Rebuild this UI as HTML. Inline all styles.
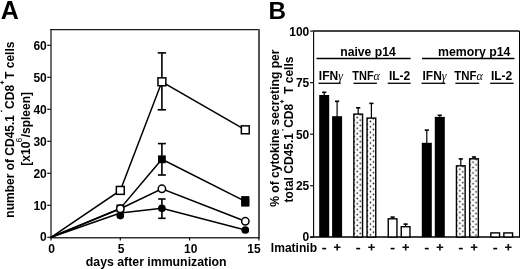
<!DOCTYPE html>
<html><head><meta charset="utf-8"><style>
html,body{margin:0;padding:0;background:#fff;width:520px;height:269px;overflow:hidden}
svg{display:block;will-change:transform}
</style></head><body>
<svg width="520" height="269" viewBox="0 0 520 269">
<defs><pattern id="dots358" patternUnits="userSpaceOnUse" x="352.75" y="113.40" width="6" height="5.4"><rect width="6" height="5.4" fill="#fff"/><circle cx="1.5" cy="1.35" r="0.85" fill="#111"/><circle cx="4.5" cy="4.05" r="0.85" fill="#111"/></pattern><pattern id="dots371" patternUnits="userSpaceOnUse" x="365.95" y="117.40" width="6" height="5.4"><rect width="6" height="5.4" fill="#fff"/><circle cx="1.5" cy="1.35" r="0.85" fill="#111"/><circle cx="4.5" cy="4.05" r="0.85" fill="#111"/></pattern><pattern id="dots460" patternUnits="userSpaceOnUse" x="455.35" y="165.10" width="6" height="5.4"><rect width="6" height="5.4" fill="#fff"/><circle cx="1.5" cy="1.35" r="0.85" fill="#111"/><circle cx="4.5" cy="4.05" r="0.85" fill="#111"/></pattern><pattern id="dots474" patternUnits="userSpaceOnUse" x="468.55" y="158.10" width="6" height="5.4"><rect width="6" height="5.4" fill="#fff"/><circle cx="1.5" cy="1.35" r="0.85" fill="#111"/><circle cx="4.5" cy="4.05" r="0.85" fill="#111"/></pattern></defs>
<rect width="520" height="269" fill="#fff"/>
<text x="0.8" y="19" font-family="Liberation Sans" font-weight="bold" font-size="25">A</text>
<line x1="51" y1="29.6" x2="51" y2="237.3" stroke="#666" stroke-width="1.9"/>
<line x1="50.2" y1="29.6" x2="259.6" y2="29.6" stroke="#1a1a1a" stroke-width="1.3"/>
<line x1="259" y1="29.6" x2="259" y2="237.3" stroke="#555" stroke-width="2"/>
<line x1="50.2" y1="237.7" x2="259.9" y2="237.7" stroke="#333" stroke-width="1.6"/>
<line x1="47.3" y1="237.30" x2="51" y2="237.30" stroke="#111" stroke-width="1.2"/>
<text x="46.8" y="240.80" font-family="Liberation Sans" font-weight="bold" font-size="12" text-anchor="end">0</text>
<line x1="47.3" y1="205.30" x2="51" y2="205.30" stroke="#111" stroke-width="1.2"/>
<text x="46.8" y="209.50" font-family="Liberation Sans" font-weight="bold" font-size="12" text-anchor="end">10</text>
<line x1="47.3" y1="173.30" x2="51" y2="173.30" stroke="#111" stroke-width="1.2"/>
<text x="46.8" y="177.50" font-family="Liberation Sans" font-weight="bold" font-size="12" text-anchor="end">20</text>
<line x1="47.3" y1="141.30" x2="51" y2="141.30" stroke="#111" stroke-width="1.2"/>
<text x="46.8" y="145.50" font-family="Liberation Sans" font-weight="bold" font-size="12" text-anchor="end">30</text>
<line x1="47.3" y1="109.30" x2="51" y2="109.30" stroke="#111" stroke-width="1.2"/>
<text x="46.8" y="113.50" font-family="Liberation Sans" font-weight="bold" font-size="12" text-anchor="end">40</text>
<line x1="47.3" y1="77.30" x2="51" y2="77.30" stroke="#111" stroke-width="1.2"/>
<text x="46.8" y="81.50" font-family="Liberation Sans" font-weight="bold" font-size="12" text-anchor="end">50</text>
<line x1="47.3" y1="45.30" x2="51" y2="45.30" stroke="#111" stroke-width="1.2"/>
<text x="46.8" y="49.50" font-family="Liberation Sans" font-weight="bold" font-size="12" text-anchor="end">60</text>
<line x1="51.00" y1="237.3" x2="51.00" y2="240.6" stroke="#111" stroke-width="1.2"/>
<text x="51.6" y="253.4" font-family="Liberation Sans" font-weight="bold" font-size="12" text-anchor="middle">0</text>
<line x1="120.30" y1="237.3" x2="120.30" y2="240.6" stroke="#111" stroke-width="1.2"/>
<text x="121" y="253.4" font-family="Liberation Sans" font-weight="bold" font-size="12" text-anchor="middle">5</text>
<line x1="189.60" y1="237.3" x2="189.60" y2="240.6" stroke="#111" stroke-width="1.2"/>
<text x="190.7" y="253.4" font-family="Liberation Sans" font-weight="bold" font-size="12" text-anchor="middle">10</text>
<line x1="258.90" y1="237.3" x2="258.90" y2="240.6" stroke="#111" stroke-width="1.2"/>
<text x="254" y="253.4" font-family="Liberation Sans" font-weight="bold" font-size="12" text-anchor="middle">15</text>
<text x="156.2" y="266.2" font-family="Liberation Sans" font-weight="bold" font-size="12.3" text-anchor="middle">days after immunization</text>
<text transform="translate(14.3,217.7) rotate(-90)" font-family="Liberation Sans" font-weight="bold" font-size="12">number of CD45.1</text>
<text transform="translate(14.3,108.9) rotate(-90)" font-family="Liberation Sans" font-weight="bold" font-size="12">CD8</text>
<text transform="translate(14.3,78.9) rotate(-90)" font-family="Liberation Sans" font-weight="bold" font-size="12">T cells</text>
<path d="M1.55 80.70h1.1v3.6h-1.1zM0.30 81.95h3.6v1.1h-3.6z" fill="#111"/>
<circle cx="1.5" cy="111.1" r="0.85" fill="#222"/>
<text transform="translate(30.2,165.7) rotate(-90)" font-family="Liberation Sans" font-weight="bold" font-size="12">[x10</text>
<text transform="translate(30.2,137.3) rotate(-90)" font-family="Liberation Sans" font-weight="bold" font-size="12">/spleen]</text>
<text transform="translate(22.4,142.6) rotate(-90)" font-family="Liberation Sans" font-weight="normal" font-size="8.5">6</text>
<polyline points="51.00,237.30 120.30,190.40 161.90,81.80 245.30,129.80" fill="none" stroke="#000" stroke-width="1.5"/>
<line x1="161.90" y1="52.9" x2="161.90" y2="109.8" stroke="#000" stroke-width="1.6"/>
<line x1="157.70" y1="52.9" x2="166.10" y2="52.9" stroke="#000" stroke-width="1.6"/>
<line x1="157.70" y1="109.8" x2="166.10" y2="109.8" stroke="#000" stroke-width="1.6"/>
<polyline points="51.00,237.30 120.30,208.40 161.90,159.30 245.30,201.40" fill="none" stroke="#000" stroke-width="1.5"/>
<line x1="161.90" y1="143.6" x2="161.90" y2="175.0" stroke="#000" stroke-width="1.6"/>
<line x1="157.90" y1="143.6" x2="165.90" y2="143.6" stroke="#000" stroke-width="1.6"/>
<line x1="157.90" y1="175.0" x2="165.90" y2="175.0" stroke="#000" stroke-width="1.6"/>
<polyline points="51.00,237.30 120.30,208.80 161.90,188.80 245.30,221.30" fill="none" stroke="#000" stroke-width="1.5"/>
<polyline points="51.00,237.30 120.30,213.00 161.90,208.30 245.30,230.00" fill="none" stroke="#000" stroke-width="1.5"/>
<line x1="161.90" y1="199.0" x2="161.90" y2="218.3" stroke="#000" stroke-width="1.6"/>
<line x1="158.20" y1="199.0" x2="165.60" y2="199.0" stroke="#000" stroke-width="1.6"/>
<line x1="158.20" y1="218.3" x2="165.60" y2="218.3" stroke="#000" stroke-width="1.6"/>
<rect x="241.20" y="196.1" width="8.2" height="10.5" fill="#000"/>
<rect x="116.40" y="204.50" width="7.8" height="7.8" fill="#000"/>
<rect x="158.00" y="155.40" width="7.8" height="7.8" fill="#000"/>
<rect x="241.40" y="197.50" width="7.8" height="7.8" fill="#000"/>
<rect x="116.35" y="186.45" width="7.9" height="7.9" fill="#fff" stroke="#000" stroke-width="1.5"/>
<rect x="157.95" y="77.85" width="7.9" height="7.9" fill="#fff" stroke="#000" stroke-width="1.5"/>
<rect x="241.35" y="125.85" width="7.9" height="7.9" fill="#fff" stroke="#000" stroke-width="1.5"/>
<circle cx="120.30" cy="215.60" r="3.85" fill="#000"/>
<circle cx="161.90" cy="208.30" r="3.85" fill="#000"/>
<circle cx="245.30" cy="230.00" r="3.85" fill="#000"/>
<circle cx="120.30" cy="208.80" r="3.7" fill="#fff" stroke="#000" stroke-width="1.5"/>
<circle cx="161.90" cy="188.80" r="3.7" fill="#fff" stroke="#000" stroke-width="1.5"/>
<circle cx="245.30" cy="221.30" r="3.7" fill="#fff" stroke="#000" stroke-width="1.5"/>
<text x="268.6" y="18.7" font-family="Liberation Sans" font-weight="bold" font-size="24.3">B</text>
<line x1="313.6" y1="31" x2="313.6" y2="237.1" stroke="#000" stroke-width="1.1"/>
<line x1="313.2" y1="31" x2="519.5" y2="31" stroke="#444" stroke-width="1.8"/>
<line x1="519.5" y1="31" x2="519.5" y2="237.1" stroke="#000" stroke-width="1"/>
<line x1="310.1" y1="237.0" x2="520" y2="237.0" stroke="#000" stroke-width="1.4"/>
<line x1="310.1" y1="237.30" x2="313.8" y2="237.30" stroke="#111" stroke-width="1.2"/>
<text x="309.3" y="240.70" font-family="Liberation Sans" font-weight="bold" font-size="12" text-anchor="end">0</text>
<line x1="310.1" y1="185.75" x2="313.8" y2="185.75" stroke="#111" stroke-width="1.2"/>
<text x="309.3" y="190.45" font-family="Liberation Sans" font-weight="bold" font-size="12" text-anchor="end">25</text>
<line x1="310.1" y1="134.20" x2="313.8" y2="134.20" stroke="#111" stroke-width="1.2"/>
<text x="309.3" y="138.90" font-family="Liberation Sans" font-weight="bold" font-size="12" text-anchor="end">50</text>
<line x1="310.1" y1="82.65" x2="313.8" y2="82.65" stroke="#111" stroke-width="1.2"/>
<text x="309.3" y="87.35" font-family="Liberation Sans" font-weight="bold" font-size="12" text-anchor="end">75</text>
<line x1="310.1" y1="31.10" x2="313.8" y2="31.10" stroke="#111" stroke-width="1.2"/>
<text x="309.3" y="36.20" font-family="Liberation Sans" font-weight="bold" font-size="12" text-anchor="end">100</text>
<text transform="translate(279.2,206.8) rotate(-90)" font-family="Liberation Sans" font-weight="bold" font-size="12.1">% of cytokine secreting per</text>
<text transform="translate(293,202.4) rotate(-90)" font-family="Liberation Sans" font-weight="bold" font-size="12">total CD45.1</text>
<text transform="translate(293,127.8) rotate(-90)" font-family="Liberation Sans" font-weight="bold" font-size="12">CD8</text>
<text transform="translate(293,93.95) rotate(-90)" font-family="Liberation Sans" font-weight="bold" font-size="12">T cells</text>
<path d="M281.40 99.70h1.1v3.6h-1.1zM280.15 100.95h3.6v1.1h-3.6z" fill="#111"/>
<circle cx="282.8" cy="129.8" r="0.85" fill="#222"/>
<text x="340.2" y="55.6" font-family="Liberation Sans" font-weight="bold" font-size="12.2">naive p14</text>
<line x1="316.5" y1="58.5" x2="410.6" y2="58.5" stroke="#000" stroke-width="1.5"/>
<text x="438" y="55.6" font-family="Liberation Sans" font-weight="bold" font-size="12.3">memory p14</text>
<line x1="422" y1="58.6" x2="514.4" y2="58.6" stroke="#000" stroke-width="1.5"/>
<text x="318.8" y="80" font-family="Liberation Sans" font-weight="bold" font-size="12">IFN<tspan font-family="Liberation Serif" font-weight="normal" font-style="italic">γ</tspan></text>
<line x1="318.5" y1="83.3" x2="340.6" y2="83.3" stroke="#000" stroke-width="1.3"/>
<text x="352.3" y="80" font-family="Liberation Sans" font-weight="bold" font-size="12"><tspan textLength="21.3" lengthAdjust="spacingAndGlyphs">TNF</tspan><tspan font-family="Liberation Serif" font-weight="normal" font-style="italic">α</tspan></text>
<line x1="353.5" y1="83.3" x2="376.9" y2="83.3" stroke="#000" stroke-width="1.3"/>
<text x="388.9" y="80" font-family="Liberation Sans" font-weight="bold" font-size="12">IL-2</text>
<line x1="387.7" y1="83.3" x2="410.6" y2="83.3" stroke="#000" stroke-width="1.3"/>
<text x="422.5" y="80" font-family="Liberation Sans" font-weight="bold" font-size="12">IFN<tspan font-family="Liberation Serif" font-weight="normal" font-style="italic">γ</tspan></text>
<line x1="421.5" y1="83.3" x2="445.3" y2="83.3" stroke="#000" stroke-width="1.3"/>
<text x="454.3" y="80" font-family="Liberation Sans" font-weight="bold" font-size="12"><tspan textLength="22.2" lengthAdjust="spacingAndGlyphs">TNF</tspan><tspan font-family="Liberation Serif" font-weight="normal" font-style="italic">α</tspan></text>
<line x1="455.4" y1="83.3" x2="479.2" y2="83.3" stroke="#000" stroke-width="1.3"/>
<text x="490.9" y="80" font-family="Liberation Sans" font-weight="bold" font-size="12">IL-2</text>
<line x1="490.2" y1="83.3" x2="513.6" y2="83.3" stroke="#000" stroke-width="1.3"/>
<line x1="324.2" y1="92.3" x2="324.2" y2="96" stroke="#000" stroke-width="1.2"/>
<line x1="322.10" y1="92.3" x2="326.30" y2="92.3" stroke="#000" stroke-width="1.6"/>
<rect x="319.20" y="95" width="10" height="142.00" fill="#000"/>
<line x1="337.1" y1="101.3" x2="337.1" y2="117.2" stroke="#000" stroke-width="1.2"/>
<line x1="335.00" y1="101.3" x2="339.20" y2="101.3" stroke="#000" stroke-width="1.6"/>
<rect x="332.10" y="116.2" width="10" height="120.80" fill="#000"/>
<line x1="358.2" y1="107.8" x2="358.2" y2="114.4" stroke="#000" stroke-width="1.2"/>
<line x1="356.10" y1="107.8" x2="360.30" y2="107.8" stroke="#000" stroke-width="1.6"/>
<rect x="353.85" y="114.10" width="8.7" height="122.90" fill="url(#dots358)" stroke="#000" stroke-width="1.4"/>
<line x1="371.4" y1="103.4" x2="371.4" y2="118.4" stroke="#000" stroke-width="1.2"/>
<line x1="369.30" y1="103.4" x2="373.50" y2="103.4" stroke="#000" stroke-width="1.6"/>
<rect x="367.05" y="118.10" width="8.7" height="118.90" fill="url(#dots371)" stroke="#000" stroke-width="1.4"/>
<line x1="392.6" y1="217.1" x2="392.6" y2="219.1" stroke="#000" stroke-width="1.2"/>
<line x1="390.50" y1="217.1" x2="394.70" y2="217.1" stroke="#000" stroke-width="1.6"/>
<rect x="388.25" y="218.80" width="8.7" height="18.20" fill="#fff" stroke="#000" stroke-width="1.4"/>
<line x1="405.6" y1="224.1" x2="405.6" y2="227" stroke="#000" stroke-width="1.2"/>
<line x1="403.50" y1="224.1" x2="407.70" y2="224.1" stroke="#000" stroke-width="1.6"/>
<rect x="401.25" y="226.70" width="8.7" height="10.30" fill="#fff" stroke="#000" stroke-width="1.4"/>
<line x1="426.8" y1="130.1" x2="426.8" y2="143.8" stroke="#000" stroke-width="1.2"/>
<line x1="424.70" y1="130.1" x2="428.90" y2="130.1" stroke="#000" stroke-width="1.6"/>
<rect x="421.80" y="142.8" width="10" height="94.20" fill="#000"/>
<line x1="439.8" y1="115.3" x2="439.8" y2="117.9" stroke="#000" stroke-width="1.2"/>
<line x1="437.70" y1="115.3" x2="441.90" y2="115.3" stroke="#000" stroke-width="1.6"/>
<rect x="434.80" y="116.9" width="10" height="120.10" fill="#000"/>
<line x1="460.8" y1="158.9" x2="460.8" y2="166.1" stroke="#000" stroke-width="1.2"/>
<line x1="458.70" y1="158.9" x2="462.90" y2="158.9" stroke="#000" stroke-width="1.6"/>
<rect x="456.45" y="165.80" width="8.7" height="71.20" fill="url(#dots460)" stroke="#000" stroke-width="1.4"/>
<line x1="474" y1="157.0" x2="474" y2="159.1" stroke="#000" stroke-width="1.2"/>
<line x1="471.90" y1="157.0" x2="476.10" y2="157.0" stroke="#000" stroke-width="1.6"/>
<rect x="469.65" y="158.80" width="8.7" height="78.20" fill="url(#dots474)" stroke="#000" stroke-width="1.4"/>
<rect x="490.85" y="232.90" width="8.7" height="4.10" fill="#fff" stroke="#000" stroke-width="1.4"/>
<rect x="503.85" y="232.90" width="8.7" height="4.10" fill="#fff" stroke="#000" stroke-width="1.4"/>
<text x="270.8" y="251.6" font-family="Liberation Sans" font-weight="bold" font-size="12" textLength="46.3" lengthAdjust="spacingAndGlyphs">Imatinib</text>
<rect x="322.25" y="247.8" width="3.9" height="1.6" fill="#000"/>
<rect x="356.25" y="247.8" width="3.9" height="1.6" fill="#000"/>
<rect x="390.65" y="247.8" width="3.9" height="1.6" fill="#000"/>
<rect x="424.85" y="247.8" width="3.9" height="1.6" fill="#000"/>
<rect x="458.85" y="247.8" width="3.9" height="1.6" fill="#000"/>
<rect x="493.25" y="247.8" width="3.9" height="1.6" fill="#000"/>
<path d="M336.40 244.00h1.6v6.6h-1.6zM333.90 246.50h6.6v1.6h-6.6z" fill="#111"/>
<path d="M370.70 244.00h1.6v6.6h-1.6zM368.20 246.50h6.6v1.6h-6.6z" fill="#111"/>
<path d="M404.90 244.00h1.6v6.6h-1.6zM402.40 246.50h6.6v1.6h-6.6z" fill="#111"/>
<path d="M439.10 244.00h1.6v6.6h-1.6zM436.60 246.50h6.6v1.6h-6.6z" fill="#111"/>
<path d="M473.30 244.00h1.6v6.6h-1.6zM470.80 246.50h6.6v1.6h-6.6z" fill="#111"/>
<path d="M507.50 244.00h1.6v6.6h-1.6zM505.00 246.50h6.6v1.6h-6.6z" fill="#111"/>
</svg>
</body></html>
